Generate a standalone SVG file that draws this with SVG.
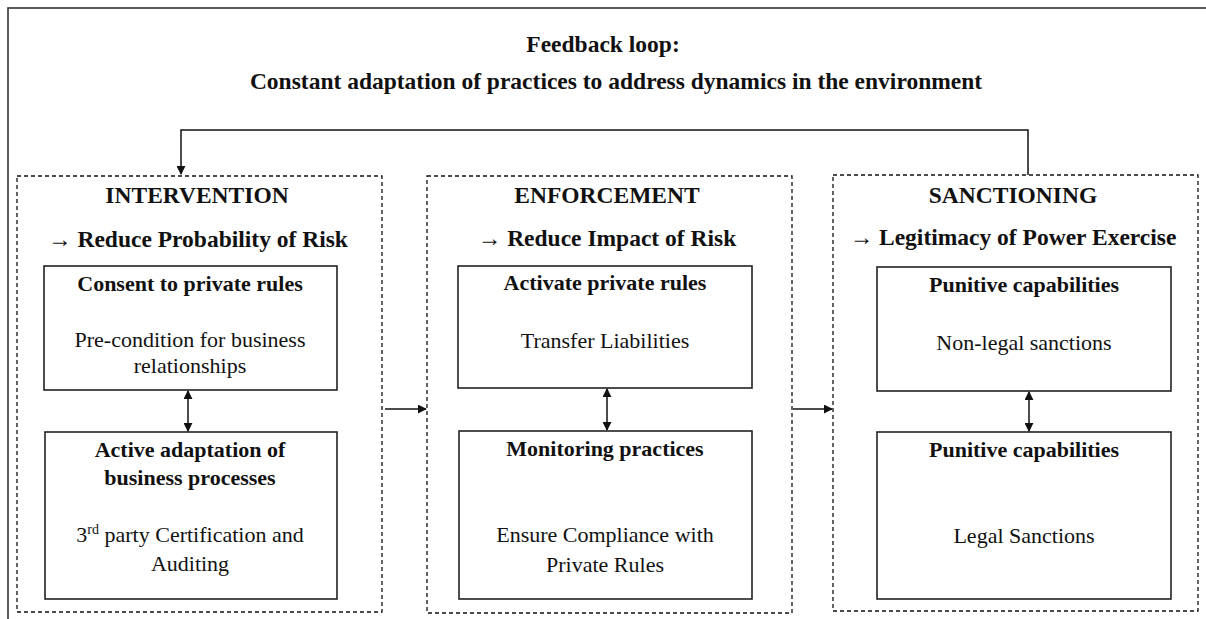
<svg xmlns="http://www.w3.org/2000/svg" width="1206" height="619" viewBox="0 0 1206 619">
<defs>
<style>
text{font-family:"Liberation Serif","Times New Roman",serif;fill:#111;text-anchor:middle}
.h{font-size:23.5px;font-weight:bold}
.b{font-size:22px;font-weight:bold}
.r{font-size:22px}
.dash{fill:none;stroke:#111;stroke-width:1.3;stroke-dasharray:4 3}
.box{fill:#fff;stroke:#222;stroke-width:1.6}
.ln{fill:none;stroke:#111;stroke-width:1.5}
</style>
<marker id="ah" viewBox="0 0 10 10" refX="9" refY="5" markerWidth="9" markerHeight="9" markerUnits="userSpaceOnUse" orient="auto-start-reverse">
<path d="M0,0 L10,5 L0,10 z" fill="#111"/>
</marker>
</defs>
<rect width="1206" height="619" fill="#fff"/>
<rect x="8" y="8" width="1210" height="630" fill="none" stroke="#333" stroke-width="1.6"/>
<g id="title">
<text class="h" x="603" y="52">Feedback loop:</text>
<text class="h" x="616" y="89">Constant adaptation of practices to address dynamics in the environment</text>
</g>
<g id="intervention">
<rect class="dash" x="17" y="176" width="365" height="436"/>
<text class="h" x="197" y="203">INTERVENTION</text>
<text class="h" x="198" y="247">→ Reduce Probability of Risk</text>
</g>
<g id="consent">
<rect class="box" x="44" y="266" width="293" height="124"/>
<text class="b" x="190" y="291">Consent to private rules</text>
<text class="r" x="190" y="347">Pre-condition for business</text>
<text class="r" x="190" y="373">relationships</text>
</g>
<g id="adaptation">
<rect class="box" x="45" y="432" width="292" height="167"/>
<text class="b" x="190" y="457">Active adaptation of</text>
<text class="b" x="190" y="485">business processes</text>
<text class="r" x="190" y="542">3<tspan font-size="14" dy="-8">rd</tspan><tspan dy="8"> party Certification and</tspan></text>
<text class="r" x="190" y="571">Auditing</text>
</g>
<g id="enforcement">
<rect class="dash" x="427" y="176" width="365" height="437"/>
<text class="h" x="607" y="203">ENFORCEMENT</text>
<text class="h" x="607" y="246">→ Reduce Impact of Risk</text>
</g>
<g id="activate">
<rect class="box" x="458" y="266" width="294" height="122"/>
<text class="b" x="605" y="290">Activate private rules</text>
<text class="r" x="605" y="348">Transfer Liabilities</text>
</g>
<g id="monitoring">
<rect class="box" x="459" y="431" width="293" height="168"/>
<text class="b" x="605" y="456">Monitoring practices</text>
<text class="r" x="605" y="542">Ensure Compliance with</text>
<text class="r" x="605" y="572">Private Rules</text>
</g>
<g id="sanctioning">
<rect class="dash" x="833" y="175" width="365" height="436"/>
<text class="h" x="1013" y="203">SANCTIONING</text>
<text class="h" x="1013" y="245">→ Legitimacy of Power Exercise</text>
</g>
<g id="nonlegal">
<rect class="box" x="877" y="267" width="294" height="124"/>
<text class="b" x="1024" y="292">Punitive capabilities</text>
<text class="r" x="1024" y="350">Non-legal sanctions</text>
</g>
<g id="legal">
<rect class="box" x="877" y="432" width="294" height="167"/>
<text class="b" x="1024" y="457">Punitive capabilities</text>
<text class="r" x="1024" y="543">Legal Sanctions</text>
</g>
<g id="connectors">
<path class="ln" d="M1028,175 V130 H181 V174" marker-end="url(#ah)"/>
<path class="ln" d="M385,409 H426" marker-end="url(#ah)"/>
<path class="ln" d="M793,409 H832" marker-end="url(#ah)"/>
<path class="ln" d="M188,391 V431" marker-start="url(#ah)" marker-end="url(#ah)"/>
<path class="ln" d="M607,389 V430" marker-start="url(#ah)" marker-end="url(#ah)"/>
<path class="ln" d="M1029,392 V431" marker-start="url(#ah)" marker-end="url(#ah)"/>
</g>
</svg>
